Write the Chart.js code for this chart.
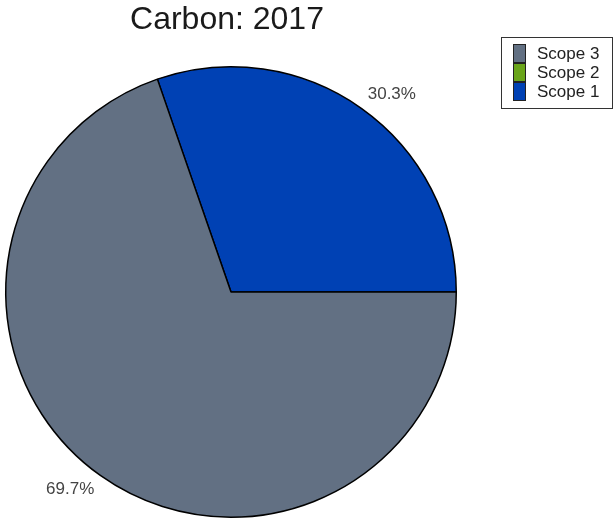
<!DOCTYPE html>
<html>
<head>
<meta charset="utf-8">
<script src="https://cdn.jsdelivr.net/npm/chart.js@4/dist/chart.umd.min.js"></script>
<style>
  html, body { margin: 0; padding: 0; background: #ffffff; }
  #wrap { position: relative; width: 614px; height: 518px; }
</style>
</head>
<body>
<div id="wrap"><canvas id="c" width="614" height="518"></canvas></div>
<script>
const titleText = 'Carbon: 2017';
const categories = ['Scope 1', 'Scope 2', 'Scope 3'];
const values = [30.3, 0, 69.7];
const pctLabels = ['30.3%', '', '69.7%'];
const colors = ['#0041B4', '#6AA51A', '#627083'];

const FONT = '"Liberation Sans", Arial, sans-serif';

const overlay = {
  id: 'overlay',
  afterDraw(chart) {
    const ctx = chart.ctx;
    ctx.save();
    // title
    ctx.fillStyle = '#1a1a1a';
    ctx.font = '32px ' + FONT;
    ctx.textAlign = 'center';
    ctx.textBaseline = 'alphabetic';
    ctx.fillText(titleText, 227, 29);

    // percent labels
    const meta = chart.getDatasetMeta(0);
    ctx.font = '17px ' + FONT;
    ctx.fillStyle = '#444444';
    ctx.textBaseline = 'middle';
    meta.data.forEach((arc, i) => {
      if (!values[i]) return;
      const p = arc.getProps(['x', 'y', 'startAngle', 'endAngle', 'outerRadius'], true);
      const mid = (p.startAngle + p.endAngle) / 2 + 0.065;
      const r = p.outerRadius * 1.13;
      ctx.fillText(pctLabels[i], p.x + Math.cos(mid) * r, p.y + Math.sin(mid) * r);
    });

    // legend (reverse order)
    ctx.strokeStyle = '#333333';
    ctx.lineWidth = 1;
    ctx.fillStyle = '#ffffff';
    ctx.fillRect(501.5, 37.5, 111, 71);
    ctx.strokeRect(501.5, 37.5, 111, 71);
    ctx.textAlign = 'left';
    ctx.font = '17px ' + FONT;
    const order = [2, 1, 0];
    order.forEach((idx, row) => {
      const y0 = 44 + row * 19;
      ctx.fillStyle = colors[idx];
      ctx.fillRect(513.5, y0 + 0.5, 12, 18);
      ctx.strokeStyle = '#222222';
      ctx.strokeRect(513.5, y0 + 0.5, 12, 18);
      ctx.fillStyle = '#222222';
      ctx.textBaseline = 'middle';
      ctx.fillText(categories[idx], 537, y0 + 10);
    });
    ctx.restore();
  }
};

new Chart(document.getElementById('c'), {
  type: 'pie',
  data: {
    labels: categories,
    datasets: [{
      data: values,
      backgroundColor: colors,
      borderColor: '#000000',
      borderWidth: 1.5
    }]
  },
  options: {
    responsive: false,
    animation: false,
    rotation: -19.08,
    layout: { padding: { left: 5, right: 157, top: 66, bottom: 0 } },
    plugins: {
      legend: { display: false },
      title: { display: false },
      tooltip: { enabled: false }
    }
  },
  plugins: [overlay]
});
</script>
</body>
</html>
